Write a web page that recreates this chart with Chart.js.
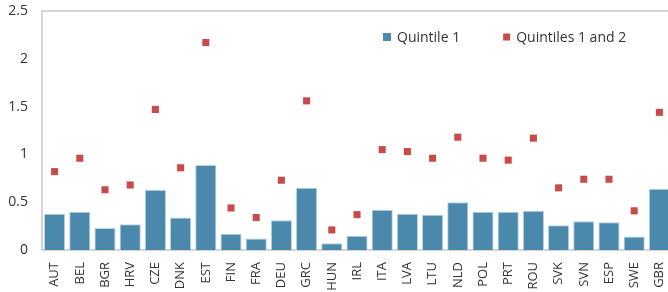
<!DOCTYPE html>
<html>
<head>
<meta charset="utf-8">
<script src="https://cdn.jsdelivr.net/npm/chart.js@4"></script>
<style>
  html, body { margin: 0; padding: 0; background: #fff; overflow: hidden; }
  #wrap { width: 677px; height: 300px; }
</style>
</head>
<body>
<div id="wrap"><canvas id="myChart" width="677" height="300"></canvas></div>
<script>
const countries = ['AUT', 'BEL', 'BGR', 'HRV', 'CZE', 'DNK', 'EST', 'FIN', 'FRA', 'DEU', 'GRC', 'HUN',
    'IRL', 'ITA', 'LVA', 'LTU', 'NLD', 'POL', 'PRT', 'ROU', 'SVK', 'SVN', 'ESP', 'SWE', 'GBR'];
const quintile1 = [0.38, 0.40, 0.23, 0.27, 0.63, 0.34, 0.89, 0.17, 0.12, 0.31, 0.65, 0.07,
    0.15, 0.42, 0.38, 0.37, 0.50, 0.40, 0.40, 0.41, 0.26, 0.30, 0.29, 0.14, 0.64];
const quintiles12 = [0.82, 0.96, 0.63, 0.68, 1.47, 0.86, 2.17, 0.44, 0.34, 0.73, 1.56, 0.21,
    0.37, 1.05, 1.03, 0.96, 1.18, 0.96, 0.94, 1.17, 0.65, 0.74, 0.74, 0.41, 1.44];
const yTicks = [0, 0.5, 1, 1.5, 2, 2.5];
</script>
<script>
// gray box round the plot
const frame = {
    id: 'frame',
    beforeDatasetsDraw(chart) {
        const a = chart.chartArea;
        const c = chart.ctx;
        c.save();
        c.strokeStyle = '#c6c6c6';
        c.lineWidth = 1.5;
        c.strokeRect(a.left, a.top, a.right - a.left, a.bottom - a.top);
        c.restore();
    }
};

// legend in one row inside the plot, upper right
const insideLegend = {
    id: 'insideLegend',
    afterDraw(chart) {
        const c = chart.ctx;
        const sizes = [8, 7];
        let x = 383;
        const y = 37;
        c.save();
        c.font = '14px "Open Sans"';
        c.textBaseline = 'middle';
        chart.data.datasets.forEach((ds, i) => {
            const s = sizes[i];
            c.fillStyle = ds.backgroundColor;
            c.fillRect(x, y - s / 2, s, s);
            x += s + 6;
            c.fillStyle = '#333';
            c.fillText(ds.label, x, y + 1);
            x += c.measureText(ds.label).width + 43;
        });
        c.restore();
    }
};

const ctx = document.getElementById('myChart').getContext('2d');
const myChart = new Chart(ctx, {
    type: 'bar',
    data: {
        labels: countries,
        datasets: [{
            label: 'Quintile 1',
            data: quintile1,
            backgroundColor: '#4a89ab',
            borderColor: '#b9d2df',
            borderWidth: 1,
            categoryPercentage: 1,
            barPercentage: 0.84
        }, {
            type: 'line',
            label: 'Quintiles 1 and 2',
            data: quintiles12,
            showLine: false,
            pointStyle: 'rect',
            pointRadius: 5,
            backgroundColor: '#c94a4a',
            borderColor: '#c94a4a',
            borderWidth: 0
        }]
    },
    options: {
        responsive: false,
        animation: false,
        layout: { padding: { top: 11, left: 0, right: 0, bottom: 0 } },
        plugins: {
            tooltip: { enabled: false },
            legend: { display: false }
        },
        scales: {
            x: {
                grid: { display: false, drawTicks: false },
                border: { display: false },
                ticks: {
                    minRotation: 90,
                    maxRotation: 90,
                    autoSkip: false,
                    padding: 12,
                    color: '#333',
                    font: { family: 'Open Sans', size: 13 }
                },
                afterFit: (s) => { s.height = 50; s.paddingLeft = 0; s.paddingRight = 0; }
            },
            y: {
                min: 0,
                max: 2.5,
                grid: { display: false, drawTicks: false },
                border: { display: false },
                afterBuildTicks: (s) => { s.ticks = yTicks.map(v => ({ value: v })); },
                ticks: {
                    padding: 14,
                    color: '#333',
                    font: { family: 'Open Sans', size: 14 },
                    callback: (v) => String(v)
                },
                afterFit: (s) => { s.width = 42; s.paddingTop = 0; s.paddingBottom = 0; }
            }
        }
    },
    plugins: [frame, insideLegend]
});
</script>
</body>
</html>
